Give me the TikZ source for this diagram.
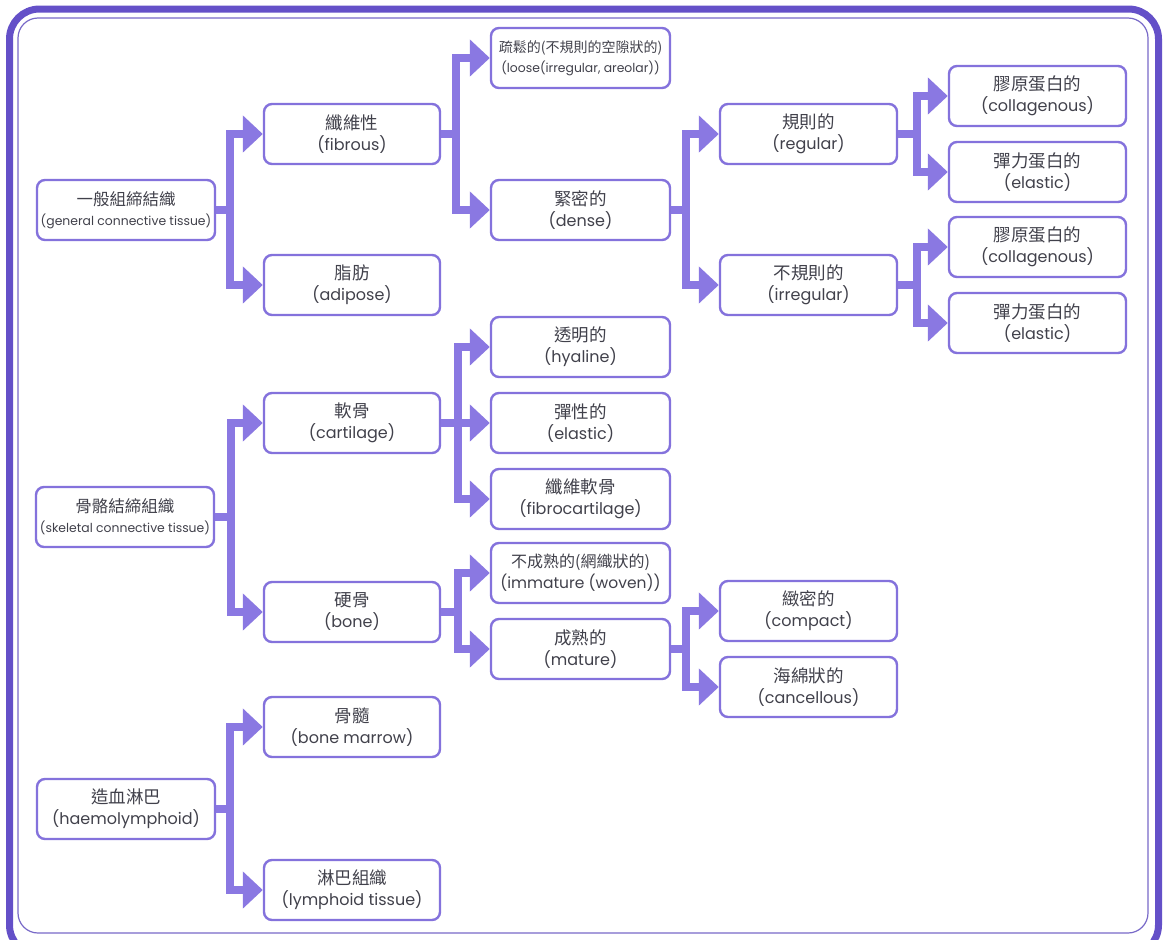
\documentclass[tikz,border=0pt]{standalone}
\usepackage{fontspec}
\setmainfont{Poppins}
\newfontfamily\cjk{Noto Sans CJK TC}
\usetikzlibrary{arrows.meta}
\definecolor{framecol}{RGB}{100,80,200}
\definecolor{thincol}{RGB}{120,105,200}
\definecolor{linkcol}{RGB}{138,120,226}
\definecolor{boxcol}{RGB}{132,114,220}
\definecolor{txtcol}{RGB}{65,65,75}
\newcommand\tx[2]{{\cjk\fontsize{17.5}{21}\selectfont #1}\\#2}
\newcommand\txs[3]{{\cjk\fontsize{#3}{19}\selectfont #1}\\#2}
\tikzset{
  box/.style={draw=boxcol, line width=2.4pt, rounded corners=8pt, fill=white,
    minimum height=60pt, inner sep=0pt, align=center, text=txtcol,
    font=\fontsize{16}{21}\selectfont},
  smalltext/.style={font=\fontsize{12.4}{20}\selectfont},
  w0/.style={box, minimum width=178pt},
  w1/.style={box, minimum width=176pt},
  w2/.style={box, minimum width=179pt},
  w3/.style={box, minimum width=177pt},
  w4/.style={box, minimum width=177pt},
  conn/.style={draw=linkcol, line width=8pt, line join=miter,
    -{Triangle[length=20pt,width=36pt]}},
}
\begin{document}
\begin{tikzpicture}[x=1pt,y=-1pt]
\useasboundingbox (0,0) rectangle (1165,940);
\clip (0,0) rectangle (1165,940);
\fill[white] (0,0) rectangle (1165,940);
% frame
\draw[framecol, line width=7pt, rounded corners=30pt] (9.5,9) rectangle (1158.5,955);
\draw[thincol, line width=1.2pt, rounded corners=20pt] (18,18) rectangle (1148,933);

% level 0
\node[w0, smalltext] (gct) at (126,210) {\txs{一般組締結織}{(general connective tissue)}{16.5}};
\node[w0, smalltext] (sct) at (125,517) {\txs{骨骼結締組織}{(skeletal connective tissue)}{16.5}};
\node[w0] (hae) at (126,809) {\tx{造血淋巴}{(haemolymphoid)}};

% level 1
\node[w1] (fib) at (352,134) {\tx{纖維性}{(fibrous)}};
\node[w1] (adi) at (352,285) {\tx{脂肪}{(adipose)}};
\node[w1] (car) at (352,423) {\tx{軟骨}{(cartilage)}};
\node[w1] (bon) at (352,612) {\tx{硬骨}{(bone)}};
\node[w1] (mar) at (352,727) {\tx{骨髓}{(bone marrow)}};
\node[w1] (lym) at (352,890) {\tx{淋巴組織}{(lymphoid tissue)}};

% level 2
\node[w2, smalltext] (loo) at (580.5,58) {\txs{疏鬆的(不規則的空隙狀的)}{(loose(irregular, areolar))}{14}};
\node[w2] (den) at (580.5,210) {\tx{緊密的}{(dense)}};
\node[w2] (hya) at (580.5,347) {\tx{透明的}{(hyaline)}};
\node[w2] (ela) at (580.5,423) {\tx{彈性的}{(elastic)}};
\node[w2] (fbc) at (580.5,499) {\tx{纖維軟骨}{(fibrocartilage)}};
\node[w2, font=\fontsize{15.5}{21}\selectfont] (imm) at (580.5,573) {\txs{不成熟的(網織狀的)}{(immature (woven))}{16}};
\node[w2] (mat) at (580.5,649) {\tx{成熟的}{(mature)}};

% level 3
\node[w3] (reg) at (808.5,134) {\tx{規則的}{(regular)}};
\node[w3] (irr) at (808.5,285) {\tx{不規則的}{(irregular)}};
\node[w3] (com) at (808.5,611) {\tx{緻密的}{(compact)}};
\node[w3] (can) at (808.5,687) {\tx{海綿狀的}{(cancellous)}};

% level 4
\node[w4] (co1) at (1037.5,96) {\tx{膠原蛋白的}{(collagenous)}};
\node[w4] (el1) at (1037.5,172) {\tx{彈力蛋白的}{(elastic)}};
\node[w4] (co2) at (1037.5,247) {\tx{膠原蛋白的}{(collagenous)}};
\node[w4] (el2) at (1037.5,323) {\tx{彈力蛋白的}{(elastic)}};

% connectors
\foreach \p/\c/\d in {gct/fib/14, gct/adi/14, sct/car/16, sct/bon/16, hae/mar/14, hae/lym/14,
  fib/loo/15, fib/den/15, car/hya/17, car/ela/17, car/fbc/17, bon/imm/17, bon/mat/17,
  den/reg/15, den/irr/15, mat/com/15, mat/can/15,
  reg/co1/19, reg/el1/19, irr/co2/19, irr/el2/19}
  \draw[conn] (\p.east) -- ++(\d,0) |- (\c.west);
\end{tikzpicture}
\end{document}
